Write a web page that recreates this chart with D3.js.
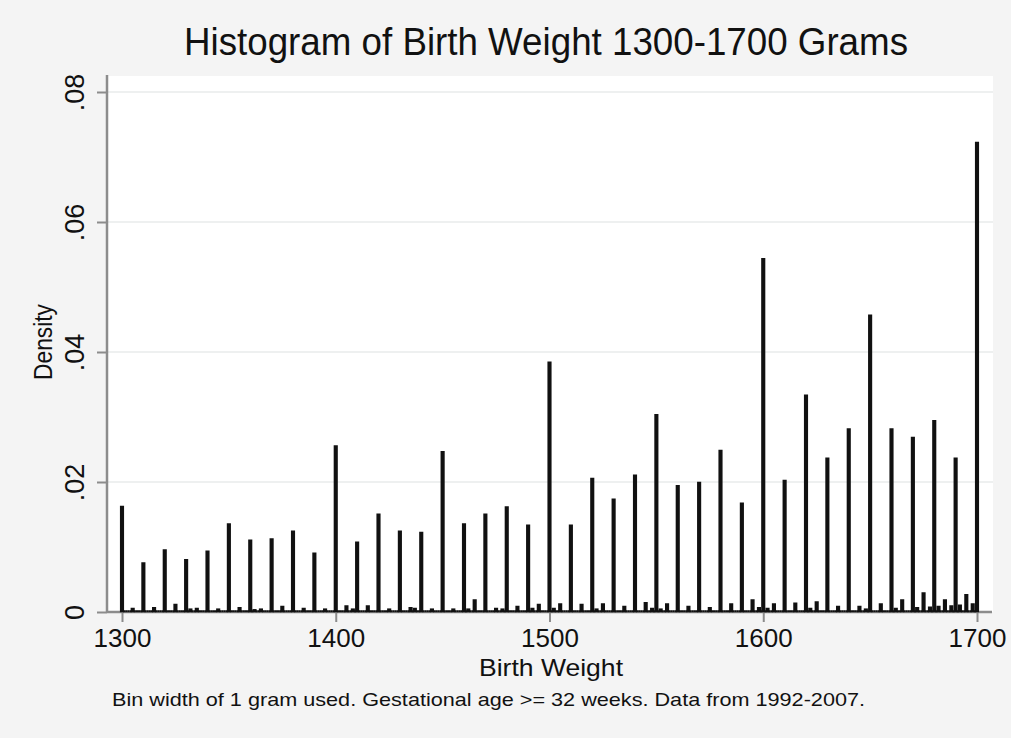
<!DOCTYPE html>
<meta charset="utf-8">
<script src="https://d3js.org/d3.v7.min.js"></script>
<style>
  body { margin: 0; background: #f4f4f4; }
  svg text { font-family: "Liberation Sans", Arial, sans-serif; fill: #111; }
</style>
<svg id="chart"></svg>
<script>

// bins on the round tens (1300, 1310, ... 1700)
var tenWeights = [1300, 1310, 1320, 1330, 1340, 1350, 1360, 1370, 1380, 1390,
                  1400, 1410, 1420, 1430, 1440, 1450, 1460, 1470, 1480, 1490,
                  1500, 1510, 1520, 1530, 1540, 1550, 1560, 1570, 1580, 1590,
                  1600, 1610, 1620, 1630, 1640, 1650, 1660, 1670, 1680, 1690, 1700];
var tenDensity = [0.0162, 0.0075, 0.0095, 0.0080, 0.0093, 0.0135, 0.0110, 0.0112, 0.0124, 0.0090,
                  0.0255, 0.0107, 0.0150, 0.0124, 0.0122, 0.0246, 0.0135, 0.0150, 0.0161, 0.0133,
                  0.0384, 0.0133, 0.0205, 0.0173, 0.0210, 0.0303, 0.0194, 0.0199, 0.0248, 0.0167,
                  0.0543, 0.0202, 0.0333, 0.0236, 0.0281, 0.0456, 0.0281, 0.0268, 0.0294, 0.0236, 0.0722];

// bins on the fives in between (1305, 1315, ... 1695)
var fiveWeights = [1305, 1315, 1325, 1335, 1345, 1355, 1365, 1375, 1385, 1395,
                   1405, 1415, 1425, 1435, 1445, 1455, 1465, 1475, 1485, 1495,
                   1505, 1515, 1525, 1535, 1545, 1555, 1565, 1575, 1585, 1595,
                   1605, 1615, 1625, 1635, 1645, 1655, 1665, 1675, 1685, 1695];
var fiveDensity = [0.0005, 0.0006, 0.0011, 0.0005, 0.0004, 0.0006, 0.0004, 0.0008, 0.0005, 0.0004,
                   0.0009, 0.0009, 0.0004, 0.0006, 0.0004, 0.0004, 0.0018, 0.0005, 0.0008, 0.0011,
                   0.0012, 0.0011, 0.0012, 0.0008, 0.0014, 0.0012, 0.0008, 0.0006, 0.0012, 0.0018,
                   0.0012, 0.0013, 0.0015, 0.0008, 0.0008, 0.0012, 0.0018, 0.0029, 0.0018, 0.0026];

// a few other small bumps along the base
var otherWeights = [1332, 1362, 1408, 1437, 1462, 1478, 1492, 1502, 1522, 1548,
                    1552, 1598, 1602, 1622, 1648, 1662, 1672, 1678, 1682, 1688, 1692, 1698];
var otherDensity = [0.0004, 0.0003, 0.0004, 0.0005, 0.0004, 0.0004, 0.0005, 0.0005, 0.0004, 0.0005,
                    0.0004, 0.0006, 0.0005, 0.0005, 0.0004, 0.0005, 0.0006, 0.0007, 0.0008, 0.0009, 0.0010, 0.0012];

var yTicks = [0, 0.02, 0.04, 0.06, 0.08];
var xTicks = [1300, 1400, 1500, 1600, 1700];

var titleText = "Histogram of Birth Weight 1300-1700 Grams";
var noteText = "Bin width of 1 gram used. Gestational age >= 32 weeks. Data from 1992-2007.";

var W = 1011, H = 738;
var plot = { left: 107, right: 993, top: 76, bottom: 612 };

var svg = d3.select("#chart").attr("width", W).attr("height", H);

svg.append("rect").attr("width", W).attr("height", H).attr("fill", "#f4f4f4");
svg.append("rect")
  .attr("x", plot.left).attr("y", plot.top)
  .attr("width", plot.right - plot.left).attr("height", plot.bottom - plot.top)
  .attr("fill", "#ffffff");

var x = d3.scaleLinear().domain([1300, 1700]).range([122, 977]);
var y = d3.scaleLinear().domain([0, 0.08]).range([plot.bottom, 92]);

// gridlines
svg.append("g").selectAll("line")
  .data(yTicks.filter(function (d) { return d > 0; }))
  .enter().append("line")
    .attr("x1", plot.left).attr("x2", plot.right)
    .attr("y1", function (d) { return y(d); }).attr("y2", function (d) { return y(d); })
    .attr("stroke", "#e9ebeb").attr("stroke-width", 1.6);

// all bins, one gram wide
var bins = [];
tenWeights.forEach(function (w, i) { bins.push({ w: w, d: tenDensity[i] }); });
fiveWeights.forEach(function (w, i) { bins.push({ w: w, d: fiveDensity[i] }); });
otherWeights.forEach(function (w, i) { bins.push({ w: w, d: otherDensity[i] }); });
var seen = {};
bins.forEach(function (b) { seen[b.w] = true; });
d3.range(1300, 1701).forEach(function (w) { if (!seen[w]) bins.push({ w: w, d: 0 }); });
bins.sort(function (a, b) { return a.w - b.w; });

// axes (drawn below the bars)
var yAxis = svg.append("g")
  .attr("transform", "translate(" + plot.left + ",0)")
  .call(d3.axisLeft(y).tickValues(yTicks).tickSize(10).tickPadding(0)
    .tickFormat(function (d) { return d === 0 ? "0" : d3.format(".2f")(d).replace(/^0/, ""); }));
yAxis.select(".domain").remove();
yAxis.selectAll(".tick line").attr("stroke", "#8c8c8c").attr("stroke-width", 2);
yAxis.selectAll(".tick text")
  .attr("transform", "rotate(-90)")
  .attr("x", 0).attr("y", -23).attr("dy", 0)
  .attr("text-anchor", "middle")
  .style("font-size", "27px").style("font-family", "'Liberation Sans', Arial, sans-serif")
  .attr("fill", "#111");

var xAxis = svg.append("g")
  .attr("transform", "translate(0," + plot.bottom + ")")
  .call(d3.axisBottom(x).tickValues(xTicks).tickSize(10).tickPadding(7).tickFormat(d3.format("d")));
xAxis.select(".domain").remove();
xAxis.selectAll(".tick line").attr("stroke", "#8c8c8c").attr("stroke-width", 2);
xAxis.selectAll(".tick text")
  .style("font-size", "26px").style("font-family", "'Liberation Sans', Arial, sans-serif")
  .attr("fill", "#111");

svg.append("line")
  .attr("x1", plot.left).attr("x2", plot.left)
  .attr("y1", plot.top - 1).attr("y2", plot.bottom)
  .attr("stroke", "#8c8c8c").attr("stroke-width", 2.5);
svg.append("line")
  .attr("x1", plot.left).attr("x2", plot.right - 1)
  .attr("y1", plot.bottom).attr("y2", plot.bottom)
  .attr("stroke", "#8c8c8c").attr("stroke-width", 2.5);

// bars
svg.append("g").selectAll("path")
  .data(bins)
  .enter().append("path")
    .attr("d", function (b) {
      var x0 = x(b.w - 0.5), x1 = x(b.w + 0.5), y0 = y(0) - 0.8, y1 = Math.min(y(b.d), y0);
      return "M" + x0 + "," + y0 + "V" + y1 + "H" + x1 + "V" + y0 + "Z";
    })
    .attr("fill", "#111")
    .attr("stroke", "#111")
    .attr("stroke-width", 2)
    .attr("stroke-linejoin", "miter");

// titles
svg.append("text")
  .attr("x", 546).attr("y", 55)
  .attr("text-anchor", "middle")
  .attr("textLength", 724).attr("lengthAdjust", "spacingAndGlyphs")
  .style("font-size", "38px")
  .text(titleText);

svg.append("text")
  .attr("transform", "translate(52,342) rotate(-90)")
  .attr("text-anchor", "middle")
  .attr("textLength", 76).attr("lengthAdjust", "spacingAndGlyphs")
  .style("font-size", "25px")
  .text("Density");

svg.append("text")
  .attr("x", 551).attr("y", 676)
  .attr("text-anchor", "middle")
  .attr("textLength", 144).attr("lengthAdjust", "spacingAndGlyphs")
  .style("font-size", "24px")
  .text("Birth Weight");

svg.append("text")
  .attr("x", 112).attr("y", 706)
  .attr("textLength", 753).attr("lengthAdjust", "spacingAndGlyphs")
  .style("font-size", "19px")
  .text(noteText);

</script>
